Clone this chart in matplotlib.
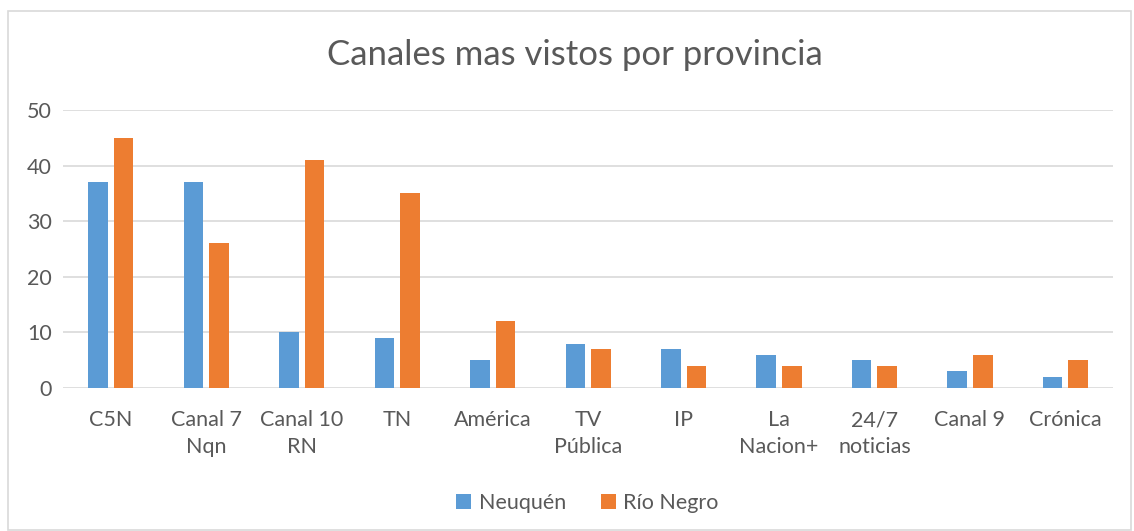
import numpy as np
import matplotlib
matplotlib.use("Agg")
import matplotlib.pyplot as plt
from matplotlib.patches import Rectangle

# # # data # # #
canales = ["C5N", "Canal 7\nNqn", "Canal 10\nRN", "TN", "América", "TV\nPública",
           "IP", "La\nNacion+", "24/7\nnoticias", "Canal 9", "Crónica"]
neuquen = [37, 37, 10, 9, 5, 8, 7, 6, 5, 3, 2]
rio_negro = [45, 26, 41, 35, 12, 7, 4, 4, 4, 6, 5]

plt.rcParams['font.family'] = ['Lato', 'DejaVu Sans']
TXT = "#595959"

fig = plt.figure(figsize=(11.34, 5.31), dpi=100)
ax = fig.add_axes([0.0556, 0.2693, 0.926, 0.5235])

x = np.arange(len(canales))
w = 0.205
off = 0.134
ax.bar(x - off, neuquen, w, color="#5B9BD5", label="Neuquén", zorder=3)
ax.bar(x + off, rio_negro, w, color="#ED7D31", label="Río Negro", zorder=3)

ax.set_xlim(-0.5, len(canales) - 0.5)
ax.set_ylim(0, 50)
ax.set_yticks(range(0, 51, 10))
ax.yaxis.grid(True, color="#d9d9d9", linewidth=1.2, zorder=0)
ax.set_axisbelow(True)
for s in ax.spines.values():
    s.set_visible(False)
ax.tick_params(length=0, colors=TXT, labelsize=15.5)
ax.tick_params(axis="y", pad=8)
ax.tick_params(axis="x", pad=16)
ax.set_xticks(x)
ax.set_xticklabels(canales, linespacing=1.45, va="top")

fig.text(0.507, 0.897, "Canales mas vistos por provincia", ha="center", va="center",
         fontsize=25, color=TXT)

ax.legend(loc="center", bbox_to_anchor=(0.518, 0.052), bbox_transform=fig.transFigure,
          ncol=2, frameon=False, fontsize=15.5, labelcolor=TXT, handlelength=0.7,
          handleheight=0.7, handletextpad=0.35, columnspacing=1.6)

# chart border
fig.patches.append(Rectangle((0.007, 0.002), 0.99, 0.978, transform=fig.transFigure,
                             fill=False, edgecolor="#d9d9d9", linewidth=1.2))

fig.savefig("out.png", dpi=100)
